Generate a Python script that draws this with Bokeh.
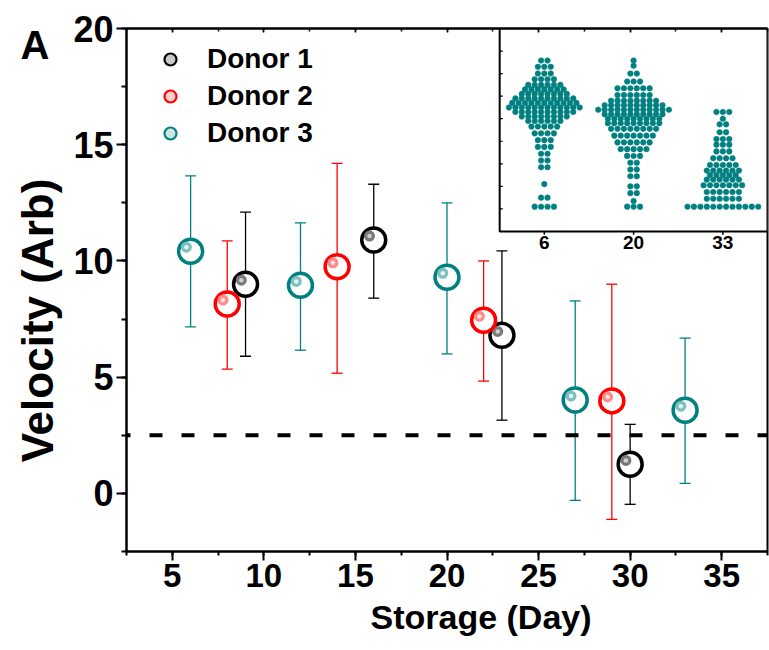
import numpy as np
from bokeh.plotting import figure
from bokeh.layouts import row
from bokeh.models import (ColumnDataSource, Whisker, Span, Legend, LegendItem, Range1d,
                          SingleIntervalTicker, LinearAxis, Title, TeeHead)
from bokeh.transform import dodge
from bokeh.core.properties import value
from bokeh.embed import file_html
from bokeh.resources import INLINE

FONT = "Liberation Sans"

# ---------------- data ----------------
donor1_day = [9, 16, 23, 30]
donor1_vel = [9.0, 10.9, 6.8, 1.25]
donor1_lo = [5.9, 8.4, 3.15, -0.47]
donor1_hi = [12.1, 13.3, 10.43, 2.97]

donor2_day = [8, 14, 22, 29]
donor2_vel = [8.15, 9.75, 7.45, 3.98]
donor2_lo = [5.35, 5.17, 4.83, -1.12]
donor2_hi = [10.86, 14.2, 10.0, 9.0]

donor3_day = [6, 12, 20, 27, 33]
donor3_vel = [10.42, 8.95, 9.3, 4.02, 3.58]
donor3_lo = [7.16, 6.16, 6.0, -0.3, 0.43]
donor3_hi = [13.66, 11.64, 12.5, 8.28, 6.68]

threshold = 2.5

x_title = "Storage (Day)"
y_title = "Velocity (Arb)"
panel_letter = "A"

# inset (swarm): levels and number of points at each level
inset_days = ["6", "20", "33"]
swarm6_levels = [7.58, 7.3, 7.0, 6.75, 6.5, 6.3, 6.1, 5.9, 5.7, 5.5, 5.3, 5.1, 4.9,
                 4.65, 4.35, 4.05, 3.75, 3.45, 3.15, 2.85, 2.1, 1.5, 1.1]
swarm6_counts = [2, 3, 3, 4, 6, 7, 8, 10, 11, 12, 10, 8, 6,
                 5, 4, 3, 3, 2, 2, 2, 1, 2, 4]
swarm20_levels = [7.58, 7.35, 7.0, 6.65, 6.35, 6.05, 5.8, 5.6, 5.4, 5.2, 5.0, 4.8,
                  4.55, 4.25, 3.95, 3.65, 3.35, 3.05, 2.75, 2.45, 2.0, 1.7, 1.35, 1.1]
swarm20_counts = [1, 1, 2, 3, 6, 6, 8, 10, 12, 10, 9, 9,
                  8, 7, 6, 5, 3, 2, 2, 2, 2, 2, 1, 3]
swarm33_levels = [5.3, 5.0, 4.75, 4.4, 4.1, 3.85, 3.55, 3.25, 2.95, 2.7, 2.5, 2.3,
                  2.05, 1.75, 1.45, 1.1]
swarm33_counts = [3, 1, 2, 2, 3, 3, 3, 4, 5, 6, 5, 6, 7, 6, 6, 12]

colors = {"Donor 1": "#000000", "Donor 2": "#ff0000", "Donor 3": "#008080"}
light = {"Donor 1": "#7a7a7a", "Donor 2": "#ff8a8a", "Donor 3": "#7fbfbf"}
core = {"Donor 1": "#d0d0d0", "Donor 2": "#ffe4e4", "Donor 3": "#e6f3f3"}
teal_dots = "#008080"

TOP, BOTTOM = 28, 99          # borders shared by both figures

# ---------------- left strip (panel letter + y title), pixel coordinates ----------------
side = figure(width=66, height=650, output_backend="svg", toolbar_location=None,
              x_range=Range1d(0, 66), y_range=Range1d(650 - BOTTOM, TOP),
              min_border_left=0, min_border_right=0, min_border_top=TOP,
              min_border_bottom=BOTTOM, x_axis_location=None, y_axis_location=None)
side.grid.visible = False
side.outline_line_color = None
side.background_fill_color = "white"
side.border_fill_color = "white"
side.text(x=[20], y=[44], text=[panel_letter], text_baseline="middle", text_align="left",
          text_font=value(FONT), text_font_style="bold", text_font_size="40px",
          text_color="black")
side.text(x=[37], y=[320], text=[y_title], angle=np.pi / 2, text_align="center",
          text_baseline="middle", text_font=value(FONT), text_font_style="bold",
          text_font_size="44px", text_color="black")

# ---------------- main figure ----------------
p = figure(width=703, height=650, output_backend="svg", toolbar_location=None,
           x_range=Range1d(2.5, 37.5), y_range=Range1d(-2.5, 20),
           min_border_left=60, min_border_right=2, min_border_top=TOP, min_border_bottom=BOTTOM)
p.grid.visible = False
p.outline_line_color = "black"
p.outline_line_width = 2
p.background_fill_color = "white"
p.border_fill_color = "white"

p.extra_x_ranges = {"inset": Range1d(-4.68, 2.5)}
p.extra_y_ranges = {"inset": Range1d(-14.19, 9)}

for ax, ticklen, minlen, fs in ((p.xaxis[0], 9, 4, "33px"), (p.yaxis[0], 10, 5, "36px")):
    ax.ticker = SingleIntervalTicker(interval=5, num_minor_ticks=2)
    ax.axis_line_width = 2
    ax.major_tick_line_width = 2
    ax.minor_tick_line_width = 2
    ax.major_tick_out = ticklen
    ax.major_tick_in = 0
    ax.minor_tick_out = minlen
    ax.minor_tick_in = 0
    ax.major_label_text_font = FONT
    ax.major_label_text_font_style = "bold"
    ax.major_label_text_font_size = fs
    ax.major_label_text_color = "black"
p.xaxis.major_label_standoff = 3
p.yaxis.major_label_standoff = 3

p.add_layout(Title(text=x_title, align="left", offset=244, standoff=13,
                   text_font=FONT, text_font_style="bold", text_font_size="34px",
                   text_color="black"), "below")

top_ax = LinearAxis(ticker=SingleIntervalTicker(interval=5, num_minor_ticks=2),
                    major_tick_in=4, major_tick_out=0, minor_tick_in=3, minor_tick_out=0,
                    major_tick_line_width=1.5, minor_tick_line_width=1.5,
                    axis_line_width=2, major_label_text_font_size="8px",
                    major_label_text_color=None, major_label_standoff=0)
p.add_layout(top_ax, "above")

# threshold dashed line
p.add_layout(Span(location=threshold, dimension="width", line_color="black",
                  line_width=4, line_dash="13 19", line_dash_offset=9))

# ---------------- main series ----------------
series = [("Donor 1", donor1_day, donor1_vel, donor1_lo, donor1_hi),
          ("Donor 2", donor2_day, donor2_vel, donor2_lo, donor2_hi),
          ("Donor 3", donor3_day, donor3_vel, donor3_lo, donor3_hi)]

legend_items = []
for name, d, v, lo, hi in series:
    c = colors[name]
    src = ColumnDataSource(dict(x=d, y=v, lo=lo, hi=hi))
    p.add_layout(Whisker(source=src, base="x", upper="hi", lower="lo",
                         line_color=c, line_width=1.3,
                         upper_head=TeeHead(size=11, line_color=c, line_width=1.3),
                         lower_head=TeeHead(size=11, line_color=c, line_width=1.3)))
    p.scatter("x", "y", source=src, size=24, line_width=3.5, line_color=c, fill_color="white")
    p.scatter(dodge("x", -0.23), dodge("y", 0.17), source=src, size=11,
              fill_color=light[name], line_color=None)
    p.scatter(dodge("x", -0.23), dodge("y", 0.17), source=src, size=4.5,
              fill_color=core[name], line_color=None)
    # legend-only glyph (never inside the visible ranges)
    lr = p.scatter(x=[np.nan], y=[np.nan], size=12, line_width=2.2, line_color=c,
                   fill_color=light[name], fill_alpha=0.4)
    legend_items.append(LegendItem(label=name, renderers=[lr]))

legend = Legend(items=legend_items, location="top_left", margin=15, padding=0,
                glyph_width=58, glyph_height=30, spacing=5, label_standoff=8,
                label_text_font=FONT, label_text_font_style="bold",
                label_text_font_size="28px", label_text_color="black",
                background_fill_alpha=0, border_line_color=None)
p.add_layout(legend)

# ---------------- inset ----------------
p.quad(left=-0.5, right=2.5, bottom=0, top=9, fill_color="white", line_color="black",
       line_width=2, x_range_name="inset", y_range_name="inset")

step = 0.072
xs, ys = [], []
for i, (lv, ct) in enumerate([(swarm6_levels, swarm6_counts),
                              (swarm20_levels, swarm20_counts),
                              (swarm33_levels, swarm33_counts)]):
    for yv, n in zip(lv, ct):
        offs = (np.arange(n) - (n - 1) / 2.0) * step
        xs.extend((i + offs).tolist())
        ys.extend([yv] * n)
p.scatter(xs, ys, size=5.6, fill_color=teal_dots, line_color=teal_dots, line_width=0.5,
          x_range_name="inset", y_range_name="inset")

cat_x = list(range(len(inset_days)))
p.segment(x0=cat_x, x1=cat_x, y0=[0] * 3, y1=[-0.14] * 3, line_color="black", line_width=1.5,
          x_range_name="inset", y_range_name="inset")
lev = list(range(1, 9))
p.segment(x0=[-0.5] * 8, x1=[-0.465] * 8, y0=lev, y1=lev, line_color="black", line_width=1.2,
          x_range_name="inset", y_range_name="inset")
p.text(x=cat_x, y=[0] * 3, text=inset_days, x_range_name="inset", y_range_name="inset",
       text_align="center", text_baseline="top", y_offset=5,
       text_font=value(FONT), text_font_style="bold", text_font_size="19px",
       text_color="black")

layout = row(side, p)
open("out.html", "w").write(file_html(layout, INLINE))
